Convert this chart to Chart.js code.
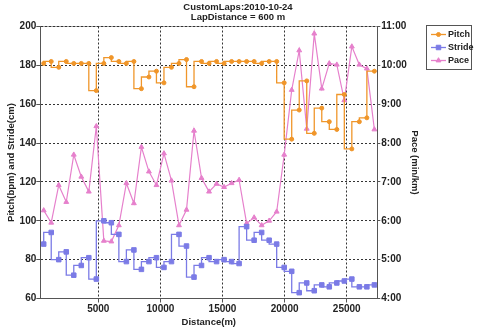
<!DOCTYPE html>
<html><head><meta charset="utf-8">
<script src="https://cdn.jsdelivr.net/npm/chart.js@4/dist/chart.umd.min.js"></script>
<style>html,body{margin:0;padding:0;background:#fff;overflow:hidden}canvas{display:block}</style>
</head><body>
<canvas id="c" width="480" height="329" style="width:480px;height:329px"></canvas>
<script>
// ---- data ----
const distances = [605,1210,1815,2420,3025,3630,4235,4840,5445,6050,6655,7260,7865,8470,9075,9680,10285,10890,11495,12100,12705,13310,13915,14520,15125,15730,16335,16940,17545,18150,18755,19360,19965,20570,21175,21780,22385,22990,23595,24200,24805,25410,26015,26620,27225];
const pitch = [181,182,179,182,181,181,181,167,181,184,182,181,182,168,174,177,171,179,181,183,169,182,181,182,181,182,182,182,182,181,182,182,171,142,157,172,145,158,151,147,165,137,151,153,177];
const stride = [88,94,80,84,72,77,81,70,100,99,93,79,85,75,79,81,76,79,93,87,71,77,81,79,80,79,78,97,90,94,90,88,76,74,63,68,64,67,66,68,69,70,66,66,67];
// pace in seconds per km
const paceSec = [376,357,415,389,462,428,405,506,329,328,353,418,387,474,436,415,464,422,353,377,499,426,405,417,412,418,423,356,365,353,360,374,462,562,623,502,649,564,603,601,546,629,601,595,501];
const xTicks = [5000,10000,15000,20000,25000];
const leftTicks = [60,80,100,120,140,160,180,200];
const rightTicks = [240,300,360,420,480,540,600,660];
const titleLines = ['CustomLaps:2010-10-24','LapDistance = 600 m'];
const seriesNames = ['Pitch','Stride','Pace'];
const xTitle = 'Distance(m)';
const leftTitle = 'Pitch(bpm) and Stride(cm)';
const rightTitle = 'Pace (min/km)';

const C_PITCH = '#F0962A', C_STRIDE = '#7B7BE6', C_PACE = '#E680CC';
const FONT = 'Liberation Sans';
const fmtPace = s => Math.floor(s/60) + ':' + String(s%60).padStart(2,'0');
const pts = arr => arr.map((v,i)=>({x:distances[i], y:v}));

const decor = {
  id:'decor',
  beforeDraw(chart){
    const {ctx, chartArea:a} = chart;
    ctx.save();
    ctx.fillStyle = '#fff'; ctx.fillRect(0,0,chart.width,chart.height);
    ctx.strokeStyle = '#a0a0a0'; ctx.lineWidth = 1;
    ctx.beginPath(); ctx.moveTo(a.left, a.top); ctx.lineTo(a.right, a.top); ctx.stroke();
    ctx.restore();
  },
  afterDraw(chart){
    const {ctx} = chart;
    ctx.save();
    ctx.fillStyle = '#222';
    ctx.font = 'bold 9.5px "'+FONT+'"';
    ctx.textAlign = 'center'; ctx.textBaseline = 'middle';
    ctx.fillText(titleLines[0], 238, 7);
    ctx.fillText(titleLines[1], 238, 17);
    // legend
    const bx = 426.5, by = 25.5, bw = 45, bh = 44;
    ctx.fillStyle = '#fff'; ctx.fillRect(bx,by,bw,bh);
    ctx.strokeStyle = '#555'; ctx.lineWidth = 1; ctx.strokeRect(bx,by,bw,bh);
    const cols = [C_PITCH, C_STRIDE, C_PACE];
    const styles = ['circle','rect','triangle'];
    const radii = [2,3.2,3];
    ctx.textAlign = 'left';
    ctx.font = 'bold 9px "'+FONT+'"';
    for (let i=0;i<3;i++){
      const y = 34.5 + i*13;
      ctx.strokeStyle = cols[i]; ctx.lineWidth = 1.5;
      ctx.beginPath(); ctx.moveTo(431,y); ctx.lineTo(446,y); ctx.stroke();
      Chart.helpers.drawPoint(ctx, {pointStyle:styles[i], radius:radii[i], borderWidth:1}, 438.5, y);
      ctx.fillStyle = cols[i]; 
      ctx.fillStyle = '#222';
      ctx.fillText(seriesNames[i], 448, y+0.5);
    }
    ctx.restore();
  }
};

// patch: drawPoint needs fill/stroke styles set
const origDraw = Chart.helpers.drawPoint;

new Chart(document.getElementById('c'), {
  type:'line',
  data:{datasets:[
    {label:seriesNames[0], data:pts(pitch), yAxisID:'y', stepped:'after', borderColor:C_PITCH, backgroundColor:C_PITCH, borderWidth:1.3, pointStyle:'circle', pointRadius:2, pointBorderWidth:1},
    {label:seriesNames[1], data:pts(stride), yAxisID:'y', stepped:'after', borderColor:C_STRIDE, backgroundColor:C_STRIDE, borderWidth:1.3, pointStyle:'rect', pointRadius:3.2, pointBorderWidth:1},
    {label:seriesNames[2], data:pts(paceSec), yAxisID:'y2', borderColor:C_PACE, backgroundColor:C_PACE, borderWidth:1.2, pointStyle:'triangle', pointRadius:2.8, pointBorderWidth:1, tension:0}
  ]},
  options:{
    responsive:false, animation:false, devicePixelRatio:1,
    layout:{padding:{left:0, right:57.7, top:26.5, bottom:0}},
    plugins:{legend:{display:false}, title:{display:false}, tooltip:{enabled:false}},
    elements:{line:{fill:false}},
    scales:{
      x:{type:'linear', position:'bottom', min:330, max:27460,
        afterBuildTicks:s=>{s.ticks = xTicks.map(v=>({value:v}));},
        afterFit:s=>{s.height = 30.5;},
        grid:{color:'#333', lineWidth:1, tickLength:4, tickColor:'#555', drawTicks:true},
        border:{display:true, color:'#555', width:1, dash:[2,2]},
        ticks:{color:'#222', font:{family:FONT, weight:'bold', size:10}, padding:1, maxRotation:0, callback:v=>String(v)},
        title:{display:true, text:xTitle, color:'#222', font:{family:FONT, weight:'bold', size:9.5, lineHeight:1.2}, padding:{top:0,bottom:1}}
      },
      y:{type:'linear', position:'left', min:60, max:200,
        afterBuildTicks:s=>{s.ticks = leftTicks.map(v=>({value:v}));},
        afterFit:s=>{s.width = 40.3;},
        grid:{color:'#333', lineWidth:1, tickLength:4, tickColor:'#555'},
        border:{display:true, color:'#555', width:1, dash:[2,2]},
        ticks:{color:'#222', font:{family:FONT, weight:'bold', size:10}, padding:0},
        title:{display:true, text:leftTitle, color:'#222', font:{family:FONT, weight:'bold', size:9.5, lineHeight:1.2}, padding:{top:6,bottom:0}}
      },
      y2:{type:'linear', position:'right', min:240, max:660,
        afterBuildTicks:s=>{s.ticks = rightTicks.map(v=>({value:v}));},
        afterFit:s=>{s.width = 45;},
        grid:{drawOnChartArea:false, tickLength:3, tickColor:'#555'},
        border:{display:true, color:'#555', width:1},
        ticks:{color:'#222', font:{family:FONT, weight:'bold', size:10}, padding:1, callback:v=>fmtPace(v)},
        title:{display:true, text:rightTitle, color:'#222', font:{family:FONT, weight:'bold', size:9.5, lineHeight:1.2}, padding:{top:2,bottom:0}}
      }
    }
  },
  plugins:[{
    id:'legendStyles',
    afterDraw(chart){}
  }, {
    id:'decorWrap',
    beforeDraw: decor.beforeDraw,
    afterDraw(chart){
      const ctx = chart.ctx;
      // set styles used by drawPoint in legend
      const cols = [C_PITCH, C_STRIDE, C_PACE];
      ctx.save();
      ctx.font = 'bold 9.5px "'+FONT+'"';
      ctx.fillStyle = '#222'; ctx.textAlign='center'; ctx.textBaseline='middle';
      ctx.fillText(titleLines[0], 238, 7);
      ctx.fillText(titleLines[1], 238, 17);
      const bx = 426.5, by = 25.5, bw = 45, bh = 44;
      ctx.fillStyle = '#fff'; ctx.fillRect(bx,by,bw,bh);
      ctx.strokeStyle = '#555'; ctx.lineWidth = 1; ctx.strokeRect(bx,by,bw,bh);
      const styles = ['circle','rect','triangle'];
      const radii = [2,3.2,2.8];
      ctx.textAlign = 'left';
      ctx.font = 'bold 9px "'+FONT+'"';
      for (let i=0;i<3;i++){
        const y = 34.5 + i*13;
        ctx.strokeStyle = cols[i]; ctx.lineWidth = 1.3;
        ctx.beginPath(); ctx.moveTo(431,y); ctx.lineTo(446,y); ctx.stroke();
        ctx.fillStyle = cols[i]; ctx.lineWidth = 1;
        Chart.helpers.drawPoint(ctx, {pointStyle:styles[i], radius:radii[i], borderWidth:1}, 438.5, y);
        ctx.fillStyle = '#222';
        ctx.fillText(seriesNames[i], 448, y+0.5);
      }
      ctx.restore();
    }
  }]
});
</script>
</body></html>
